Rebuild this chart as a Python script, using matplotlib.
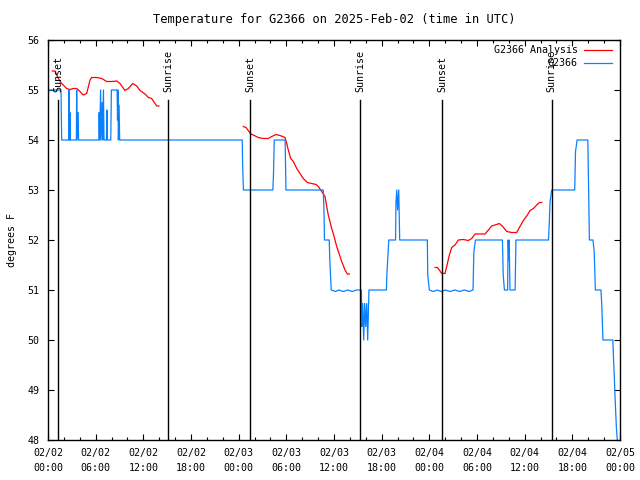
import numpy as np
import matplotlib.pyplot as plt

# heures depuis 02/02 00:00 UTC
station_h = [0, 1.64, 1.72,
             2.62, 2.66, 2.70, 2.76, 2.80,
             3.57, 3.61, 3.66, 3.80, 3.85,
             6.40, 6.44, 6.50, 6.62, 6.68, 6.82, 6.88, 6.98, 7.05,
             7.35, 7.42, 7.48,
             7.90, 7.98, 8.70, 8.75, 8.80, 8.86, 8.95, 9.02,
             24.45, 24.5, 24.6,
             28.3, 28.38, 28.48, 29.85, 29.95,
             34.65, 34.75, 34.8, 35.4, 35.47, 35.65,
             36.2, 36.6, 37.2, 37.7, 38.3, 38.8, 39.45,
             39.49, 39.61, 39.74, 39.86, 39.99, 40.12, 40.24, 40.4,
             42.6, 42.65, 42.9, 43.75, 43.8, 43.9, 44.0, 44.15, 44.27,
             47.75, 47.8, 48.0,
             48.5, 49.0, 49.5, 50.0, 50.6, 51.2, 51.8, 52.4, 53.0, 53.5,
             53.6, 53.8, 57.2, 57.3, 57.45, 57.85, 57.92, 58.0, 58.05, 58.15, 58.8, 58.9,
             63.0, 63.08, 63.2, 63.4, 66.3, 66.4, 66.6, 67.95, 68.0, 68.1, 68.15,
             68.6, 68.75, 68.9, 69.6, 69.7, 69.85, 71.1,
             71.16, 71.29, 71.41, 71.54, 71.66]
station_t = [55, 55, 54,
             54, 55, 54, 54.55, 54,
             54, 55, 54, 54.55, 54,
             54, 54.55, 54, 55, 54, 54.75, 54, 55, 54,
             54, 54.6, 54,
             54, 55, 55, 54.4, 55, 54, 54.7, 54,
             54, 53.5, 53,
             53, 53.3, 54, 54, 53,
             53, 52.5, 52, 52, 51.6, 51,
             50.97, 51, 50.97, 51, 50.97, 51, 51,
             50.27, 50.73, 50.0, 50.73, 50.27, 50.73, 50.0, 51,
             51, 51.3, 52, 52, 52.75, 53, 52.6, 53, 52,
             52, 51.3, 51,
             50.97, 51, 50.97, 51, 50.97, 51, 50.97, 51, 50.97, 51,
             51.75, 52, 52, 51.3, 51, 51, 52, 51.6, 52, 51, 51, 52,
             52, 52.27, 52.77, 53, 53, 53.77, 54, 54, 53.5, 52.5, 52,
             52, 51.77, 51, 51, 50.73, 50, 50,
             49.73, 49.23, 48.73, 48.27, 48.0]

ana1_h = [0.54, 0.88, 1.30, 1.72, 2.35, 2.77, 3.18, 3.61, 4.03, 4.44, 4.87, 5.29, 5.50,
          6.13, 6.76, 7.39, 8.02, 8.65, 9.06, 9.69, 10.11, 10.66, 11.17, 11.58, 12.21,
          12.63, 13.05, 13.47, 13.68, 13.97]
ana1_t = [55.38, 55.38, 55.23, 55.13, 55.03, 55.01, 55.03, 55.03, 54.97, 54.90, 54.93,
          55.20, 55.25, 55.25, 55.23, 55.17, 55.17, 55.18, 55.13, 54.99, 55.03, 55.13,
          55.08, 54.99, 54.92, 54.85, 54.83, 54.73, 54.68, 54.68]
ana2_h = [24.58, 24.92, 25.21, 25.52, 25.84, 26.47, 27.10, 27.73, 28.16, 28.70, 29.20,
          29.83, 30.05, 30.25, 30.55, 30.88, 31.31, 31.72, 32.14, 32.64, 33.19, 33.74,
          34.03, 34.45, 34.87, 35.08, 35.28, 35.71, 35.91, 36.34, 36.76, 36.97, 37.39,
          37.68, 37.93]
ana2_t = [54.27, 54.25, 54.19, 54.12, 54.10, 54.05, 54.03, 54.03, 54.07, 54.11, 54.09,
          54.05, 53.93, 53.80, 53.63, 53.57, 53.43, 53.33, 53.23, 53.15, 53.13, 53.11,
          53.07, 52.97, 52.87, 52.67, 52.50, 52.23, 52.13, 51.87, 51.67, 51.57, 51.40,
          51.32, 51.32]
ana3_h = [48.72, 49.0, 49.26, 49.56, 49.97, 50.19, 50.52, 50.82, 51.23, 51.65, 52.28,
          52.91, 53.34, 53.75, 54.38, 55.01, 55.43, 55.85, 56.27, 56.81, 57.24, 57.74,
          58.37, 58.99, 59.41, 59.83, 60.26, 60.68, 61.1, 61.52, 61.85, 62.15]
ana3_t = [51.45, 51.45, 51.40, 51.33, 51.33, 51.47, 51.70, 51.85, 51.90, 52.00, 52.01,
          51.99, 52.03, 52.12, 52.12, 52.12, 52.20, 52.28, 52.30, 52.33, 52.27, 52.17,
          52.15, 52.15, 52.27, 52.39, 52.48, 52.59, 52.63, 52.70, 52.75, 52.75]

sun_h = [1.26, 15.1, 25.43, 39.27, 49.6, 63.4]
sun_lab = ["Sunset", "Sunrise", "Sunset", "Sunrise", "Sunset", "Sunrise"]

xticks = list(range(0, 73, 6))
xlabels = ["02/%02d\n%02d:00" % (2 + h // 24, h % 24) for h in xticks]

plt.rcParams['font.family'] = 'DejaVu Sans Mono'
plt.rcParams['font.size'] = 7.2

fig = plt.figure(figsize=(6.4, 4.8), dpi=100)
ax = fig.add_axes([48/640, 40/480, 572/640, 400/480])

rouge = '#ff0000'
bleu = '#0a80ff'
ax.plot(ana1_h, ana1_t, color=rouge, lw=0.9, label='G2366 Analysis')
ax.plot(ana2_h, ana2_t, color=rouge, lw=0.9)
ax.plot(ana3_h, ana3_t, color=rouge, lw=0.9)
ax.plot(station_h, station_t, color=bleu, lw=0.9, label='G2366')

for h, lab in zip(sun_h, sun_lab):
    ax.plot([h, h], [0, 0.85], color='black', lw=1.0, transform=ax.get_xaxis_transform())
    ax.text(h, 0.87, lab, rotation=90, ha='center', va='bottom',
            transform=ax.get_xaxis_transform())

ax.set_xlim(0, 72)
ax.set_ylim(48, 56)
ax.set_xticks(xticks)
ax.set_xticklabels(xlabels, linespacing=1.6)
ax.set_xticks(np.arange(0, 73, 2), minor=True)
ax.set_yticks(range(48, 57))
ax.tick_params(which='both', direction='in', top=True, right=True, width=0.8)
ax.tick_params(which='major', length=4, pad=6)
ax.tick_params(which='minor', length=2)
for s in ax.spines.values():
    s.set_linewidth(1.0)

ax.set_ylabel('degrees F', labelpad=8)
ax.set_title('Temperature for G2366 on 2025-Feb-02 (time in UTC)', pad=12)

ax.legend(loc='upper right', bbox_to_anchor=(612/640, 1 - 45/480),
          bbox_transform=fig.transFigure, frameon=False, markerfirst=False,
          handlelength=2.8, labelspacing=0.3, borderpad=0, borderaxespad=0,
          handletextpad=0.6)

fig.savefig('out.png', dpi=100)
